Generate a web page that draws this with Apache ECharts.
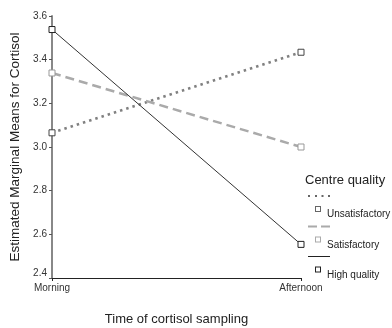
<!DOCTYPE html>
<html>
<head>
<meta charset="utf-8">
<script src="https://cdn.jsdelivr.net/npm/echarts@6/dist/echarts.min.js"></script>
<style>
html,body{margin:0;padding:0;background:#fff;}
#chart{width:392px;height:328px;}
</style>
</head>
<body>
<div id="chart"></div>
<script>
const categories = ['Morning', 'Afternoon'];
const seriesNames = ['Unsatisfactory', 'Satisfactory', 'High quality'];
const unsatisfactory = [3.065, 3.434];
const satisfactory = [3.339, 3.0];
const highQuality = [3.538, 2.554];
const yMin = 2.4, yMax = 3.6, yStep = 0.2;
const legendTitle = 'Centre quality';
const yTitle = 'Estimated Marginal Means for Cortisol';
const xTitle = 'Time of cortisol sampling';

const FONT = '"Liberation Sans", Arial, Helvetica, sans-serif';
const sq = ' M7 11H13V17H7Z M8 12V16H12V12Z';
const icons = [
  'path://M0 0H2V2H0Z M7 0H9V2H7Z M13.5 0H15.5V2H13.5Z M20 0H22V2H20Z' + sq,
  'path://M0 0H9V2H0Z M13 0H22V2H13Z' + sq,
  'path://M0 0.5H22V1.5H0Z' + sq
];
const legendColors = ['#666', '#aaa', '#222'];

const chart = echarts.init(document.getElementById('chart'), null, {renderer: 'canvas'});
chart.setOption({
  animation: false,
  backgroundColor: '#fff',
  textStyle: {fontFamily: FONT},
  grid: {left: 52, right: 91, top: 16, bottom: 50, containLabel: false, outerBoundsMode: 'none'},
  title: {
    text: legendTitle, left: 305, top: 174, padding: 0,
    textStyle: {fontSize: 13, fontWeight: 'normal', color: '#222', fontFamily: FONT}
  },
  legend: {
    orient: 'vertical', left: 308, top: 195, padding: 0,
    itemWidth: 22, itemHeight: 17, itemGap: 6,
    formatter: name => '{t|' + name + '}',
    textStyle: {
      fontSize: 10, color: '#222', fontFamily: FONT,
      rich: {t: {fontSize: 10, color: '#222', fontFamily: FONT, padding: [22, 0, 0, -8]}}
    },
    data: seriesNames.map((n, i) => ({
      name: n, icon: icons[i],
      itemStyle: {color: legendColors[i], borderWidth: 0, opacity: 1}
    }))
  },
  xAxis: {
    type: 'category', data: categories, boundaryGap: false,
    name: xTitle, nameLocation: 'middle', nameGap: 35,
    nameTextStyle: {fontSize: 13, color: '#222', fontFamily: FONT},
    axisLine: {lineStyle: {color: '#222', width: 1}},
    axisTick: {show: true, length: 3, lineStyle: {color: '#222'}, alignWithLabel: true},
    axisLabel: {fontSize: 10, color: '#333', margin: 5, fontFamily: FONT},
    splitLine: {show: false}
  },
  yAxis: {
    type: 'value', min: yMin, max: yMax, interval: yStep,
    name: yTitle, nameLocation: 'middle', nameGap: 29,
    nameTextStyle: {fontSize: 13.5, color: '#222', fontFamily: FONT},
    axisLine: {show: true, lineStyle: {color: '#888', width: 2}},
    axisTick: {show: true, length: 3, lineStyle: {color: '#555'}},
    axisLabel: {
      fontSize: 10, color: '#333', margin: 5, fontFamily: FONT,
      formatter: v => Math.abs(v - yMin) < 1e-6 ? '{low|' + v.toFixed(1) + '}' : v.toFixed(1),
      rich: {low: {fontSize: 10, color: '#333', padding: [0, 0, 10, 0], fontFamily: FONT}}
    },
    splitLine: {show: false}
  },
  series: [
    {
      name: seriesNames[0], type: 'line', data: unsatisfactory,
      symbol: 'rect', symbolSize: 6,
      itemStyle: {color: '#fff', borderColor: '#444', borderWidth: 1},
      lineStyle: {color: '#808080', width: 2.5, type: [2.5, 4]},
      z: 2
    },
    {
      name: seriesNames[1], type: 'line', data: satisfactory,
      symbol: 'rect', symbolSize: 6,
      itemStyle: {color: '#fff', borderColor: '#999', borderWidth: 1},
      lineStyle: {color: '#aaa', width: 2.5, type: [9, 5]},
      z: 3
    },
    {
      name: seriesNames[2], type: 'line', data: highQuality,
      symbol: 'rect', symbolSize: 6,
      itemStyle: {color: '#fff', borderColor: '#222', borderWidth: 1},
      lineStyle: {color: '#333', width: 1, type: 'solid'},
      z: 4
    }
  ]
});
</script>
</body>
</html>
